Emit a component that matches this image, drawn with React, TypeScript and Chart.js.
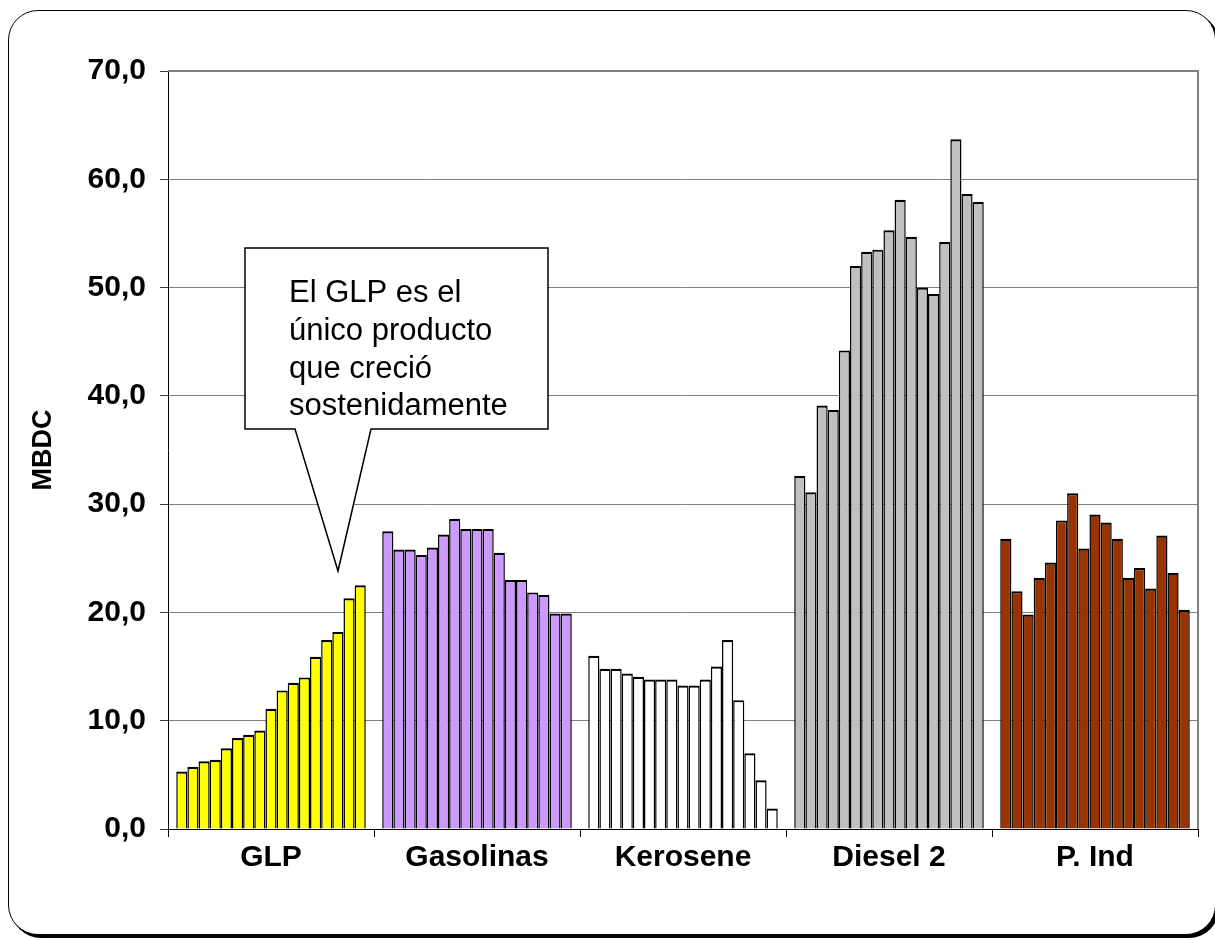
import React, { useEffect, useRef } from "react";
import { Chart, registerables } from "chart.js";

Chart.register(...registerables);

const categories = ["GLP", "Gasolinas", "Kerosene", "Diesel 2", "P. Ind"];
const categoryColors = ["#FFFF00", "#CC99FF", "#FFFFFF", "#C0C0C0", "#993300"];

const glp = [5.3, 5.75, 6.25, 6.4, 7.45, 8.4, 8.7, 9.1, 11.1, 12.8, 13.5, 14.0, 15.9, 17.45, 18.2, 21.3, 22.5];
const gasolinas = [27.5, 25.8, 25.8, 25.3, 26.0, 27.2, 28.65, 27.7, 27.7, 27.7, 25.5, 23.0, 23.0, 21.85, 21.6, 19.9, 19.9];
const kerosene = [16.0, 14.8, 14.8, 14.35, 14.05, 13.8, 13.8, 13.8, 13.25, 13.25, 13.8, 15.0, 17.45, 11.9, 7.0, 4.5, 1.9];
const diesel2 = [32.6, 31.1, 39.1, 38.7, 44.2, 52.0, 53.3, 53.5, 55.3, 58.1, 54.7, 50.0, 49.4, 54.2, 63.7, 58.65, 57.9];
const pInd = [26.8, 21.95, 19.8, 23.2, 24.6, 28.5, 31.0, 25.9, 29.05, 28.3, 26.8, 23.2, 24.1, 22.2, 27.1, 23.65, 20.25];

const yTickLabels = ["0,0", "10,0", "20,0", "30,0", "40,0", "50,0", "60,0", "70,0"];
const yTitle = "MBDC";
const calloutLines = ["El GLP es el", "único producto", "que creció", "sostenidamente"];

const FONT = "'Liberation Sans', Arial, sans-serif";

const plotBorder = {
  id: "plotBorder",
  beforeDatasetsDraw(chart: any) {
    const { ctx, chartArea } = chart;
    ctx.save();
    ctx.strokeStyle = "#808080";
    ctx.lineWidth = 2;
    ctx.beginPath();
    ctx.moveTo(chartArea.left, chartArea.top);
    ctx.lineTo(chartArea.right, chartArea.top);
    ctx.lineTo(chartArea.right, chartArea.bottom);
    ctx.stroke();
    ctx.restore();
  },
};

const callout = {
  id: "callout",
  afterDraw(chart: any) {
    const { ctx } = chart;
    ctx.save();
    ctx.beginPath();
    ctx.moveTo(245, 248);
    ctx.lineTo(548, 248);
    ctx.lineTo(548, 429);
    ctx.lineTo(371, 429);
    ctx.lineTo(338, 571);
    ctx.lineTo(295, 429);
    ctx.lineTo(245, 429);
    ctx.closePath();
    ctx.fillStyle = "#FFFFFF";
    ctx.fill();
    ctx.strokeStyle = "#000000";
    ctx.lineWidth = 1.5;
    ctx.stroke();
    ctx.fillStyle = "#000000";
    ctx.font = `31px ${FONT}`;
    ctx.textAlign = "left";
    ctx.textBaseline = "alphabetic";
    calloutLines.forEach((line, i) => {
      ctx.fillText(line, 289, 302 + i * 37.8);
    });
    ctx.restore();
  },
};

export default function App() {
  const canvasRef = useRef<HTMLCanvasElement | null>(null);

  useEffect(() => {
    const canvas = canvasRef.current;
    if (!canvas) return;
    const series = [glp, gasolinas, kerosene, diesel2, pInd];
    const datasets = glp.map((_, i) => ({
      label: `Año ${i + 1}`,
      data: series.map((s) => s[i]),
      backgroundColor: categoryColors,
      borderColor: "#000000",
      borderWidth: { top: 2.2, left: 1.5, right: 1.5, bottom: 0 },
      borderSkipped: false,
      barPercentage: 1.0,
      categoryPercentage: 0.92,
    }));

    const chart = new Chart(canvas, {
      type: "bar",
      data: { labels: categories, datasets },
      options: {
        responsive: false,
        animation: false,
        layout: { padding: { top: 71, right: 17, left: 0, bottom: 0 } },
        plugins: {
          legend: { display: false },
          tooltip: { enabled: false },
        },
        scales: {
          x: {
            grid: {
              offset: true,
              drawOnChartArea: false,
              drawTicks: true,
              tickLength: 8,
              tickColor: "#000000",
              lineWidth: 1,
            },
            border: { display: true, color: "#000000", width: 1 },
            ticks: {
              color: "#000000",
              padding: 3,
              font: { family: FONT, size: 30, weight: "bold" },
            },
            afterFit(scale: any) {
              scale.height = 111;
            },
          },
          y: {
            min: 0,
            max: 70,
            ticks: {
              stepSize: 10,
              color: "#000000",
              padding: 14,
              font: { family: FONT, size: 30, weight: "bold" },
              callback: (v: any) => yTickLabels[Math.round(Number(v) / 10)],
            },
            grid: {
              color: "#808080",
              lineWidth: 1,
              tickLength: 8,
              tickColor: "#404040",
            },
            border: { display: true, color: "#000000", width: 1 },
            title: {
              display: true,
              text: yTitle,
              color: "#000000",
              font: { family: FONT, size: 27, weight: "bold" },
              padding: { top: 27, bottom: 0 },
            },
            afterFit(scale: any) {
              scale.width = 168;
            },
          },
        },
      },
      plugins: [plotBorder, callout],
    });
    return () => chart.destroy();
  }, []);

  return (
    <>
      <div
        style={{
          position: "fixed",
          left: 8,
          top: 10,
          width: 1208,
          height: 925,
          border: "1.5px solid #000",
          borderRadius: 30,
          boxShadow: "3px 3px 0 #000",
          background: "#fff",
          boxSizing: "border-box",
        }}
      />
      <canvas
        ref={canvasRef}
        width={1215}
        height={940}
        style={{ position: "fixed", left: 0, top: 0, width: 1215, height: 940 }}
      />
    </>
  );
}
